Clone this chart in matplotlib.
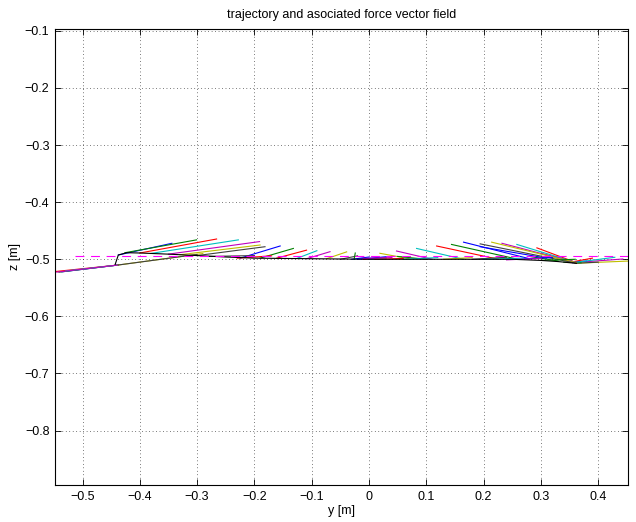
import matplotlib
matplotlib.use("Agg")
import matplotlib.pyplot as plt
import numpy as np

plt.rcParams['font.family'] = ['Liberation Sans', 'DejaVu Sans']

# trajectory (black)
traj_y = [-0.443, -0.4375, -0.423, -0.40, -0.35, -0.30, -0.25, -0.20, -0.15, -0.10,
          -0.05, 0.0, 0.05, 0.10, 0.15, 0.20, 0.25, 0.30, 0.33, 0.35, 0.362]
traj_z = [-0.509, -0.4925, -0.4885, -0.489, -0.491, -0.4935, -0.496, -0.498, -0.4985, -0.499,
          -0.4995, -0.500, -0.500, -0.500, -0.500, -0.500, -0.500, -0.502, -0.504, -0.506, -0.507]

# desired path (dashed magenta)
ref_y = [-0.513, 0.455]
ref_z = [-0.4935, -0.4935]

# force vectors: base point on trajectory -> tip
vec_y0 = [-0.4375, -0.4375, -0.4375, -0.4375, -0.4375, -0.4375, -0.4375,
          -0.4375, -0.426, -0.40, -0.379, -0.35, -0.33, -0.30,
          -0.225, -0.19, -0.161, -0.126, -0.109, -0.074, -0.05,
          -0.03, -0.026, -0.01, 0.0,
          0.355, 0.36, 0.36, 0.35, 0.34, 0.352, 0.355,
          0.362, 0.36, 0.36, 0.31, 0.33,
          0.362, 0.362, 0.362, 0.362, 0.362,
          0.28, 0.26, 0.226, 0.165, 0.11, 0.07,
          -0.28, -0.02, 0.10, 0.01, 0.06, -0.01, 0.13,
          0.18, 0.25, 0.30, -0.23, 0.20, 0.24]
vec_z0 = [-0.510, -0.510, -0.510, -0.510, -0.510, -0.510, -0.510,
          -0.4925, -0.4885, -0.489, -0.4895, -0.491, -0.492, -0.4935,
          -0.498, -0.498, -0.498, -0.4985, -0.499, -0.499, -0.500,
          -0.500, -0.500, -0.500, -0.500,
          -0.506, -0.507, -0.507, -0.505, -0.505, -0.505, -0.506,
          -0.506, -0.506, -0.505, -0.498, -0.503,
          -0.506, -0.506, -0.506, -0.506, -0.507,
          -0.499, -0.500, -0.500, -0.500, -0.500, -0.499,
          -0.495, -0.500, -0.500, -0.500, -0.500, -0.4985, -0.500,
          -0.500, -0.500, -0.502, -0.498, -0.500, -0.501]
vec_y1 = [-0.536, -0.541, -0.548, -0.530, -0.545, -0.29, -0.30,
          -0.344, -0.301, -0.266, -0.228, -0.191, -0.19, -0.1815,
          -0.155, -0.132, -0.109, -0.091, -0.068, -0.039, -0.02,
          0.0, -0.024, 0.03, 0.03,
          0.443, 0.455, 0.40, 0.38, 0.37, 0.39, 0.429,
          0.325, 0.31, 0.30, 0.194, 0.28,
          0.293, 0.258, 0.232, 0.214, 0.194,
          0.165, 0.144, 0.118, 0.083, 0.048, 0.019,
          -0.20, 0.03, 0.05, 0.06, 0.12, 0.04, 0.18,
          0.24, 0.32, 0.36, -0.17, 0.27, 0.30]
vec_z1 = [-0.522, -0.5225, -0.5215, -0.5205, -0.5225, -0.490, -0.4915,
          -0.472, -0.466, -0.4645, -0.466, -0.469, -0.475, -0.478,
          -0.4767, -0.481, -0.484, -0.485, -0.4867, -0.487, -0.494,
          -0.496, -0.489, -0.497, -0.499,
          -0.4995, -0.503, -0.505, -0.503, -0.506, -0.498, -0.4965,
          -0.495, -0.493, -0.490, -0.478, -0.495,
          -0.480, -0.474, -0.472, -0.470, -0.473,
          -0.470, -0.474, -0.4767, -0.481, -0.4855, -0.4895,
          -0.4935, -0.4955, -0.495, -0.4985, -0.497, -0.497, -0.497,
          -0.4965, -0.497, -0.500, -0.494, -0.498, -0.4985]

xticks = [-0.5, -0.4, -0.3, -0.2, -0.1, 0.0, 0.1, 0.2, 0.3, 0.4]
yticks = [-0.8, -0.7, -0.6, -0.5, -0.4, -0.3, -0.2, -0.1]


def fmt(v):
    if abs(v) < 1e-9:
        return '0'
    return ('%g' % v).replace('-', '\u2212')


# old MATLAB colour order
colors = [(0, 0, 1), (0, 0.5, 0), (1, 0, 0), (0, 0.75, 0.75),
          (0.75, 0, 0.75), (0.75, 0.75, 0), (0.25, 0.25, 0.25)]

fig = plt.figure(figsize=(6.36, 5.22), dpi=100)
ax = fig.add_axes([55/636, 37/522, 573/636, 456/522])

for i in range(len(vec_y0)):
    ax.plot([vec_y0[i], vec_y1[i]], [vec_z0[i], vec_z1[i]],
            color=colors[i % len(colors)], lw=0.8)

ax.plot(traj_y, traj_z, color='k', lw=0.8)
ax.plot(ref_y, ref_z, color=(1, 0, 1), lw=0.8, linestyle=(0, (8, 6)))

ax.set_xlim(-0.548, 0.452)
ax.set_ylim(-0.8953, -0.0967)
ax.set_xticks(xticks)
ax.set_yticks(yticks)
ax.set_xticklabels([fmt(v) for v in xticks])
ax.set_yticklabels([fmt(v) for v in yticks])
ax.tick_params(direction='in', top=True, right=True, length=4, width=0.6,
               labelsize=9, pad=4)
ax.grid(True, color='k', linestyle=(0, (1, 4)), lw=0.5)
for s in ax.spines.values():
    s.set_linewidth(0.8)

ax.set_xlabel('y [m]', fontsize=9, labelpad=2)
ax.set_ylabel('z [m]', fontsize=9, labelpad=3)
ax.set_title('trajectory and asociated force vector field', fontsize=9, pad=8)

fig.savefig('out.png', dpi=100)
